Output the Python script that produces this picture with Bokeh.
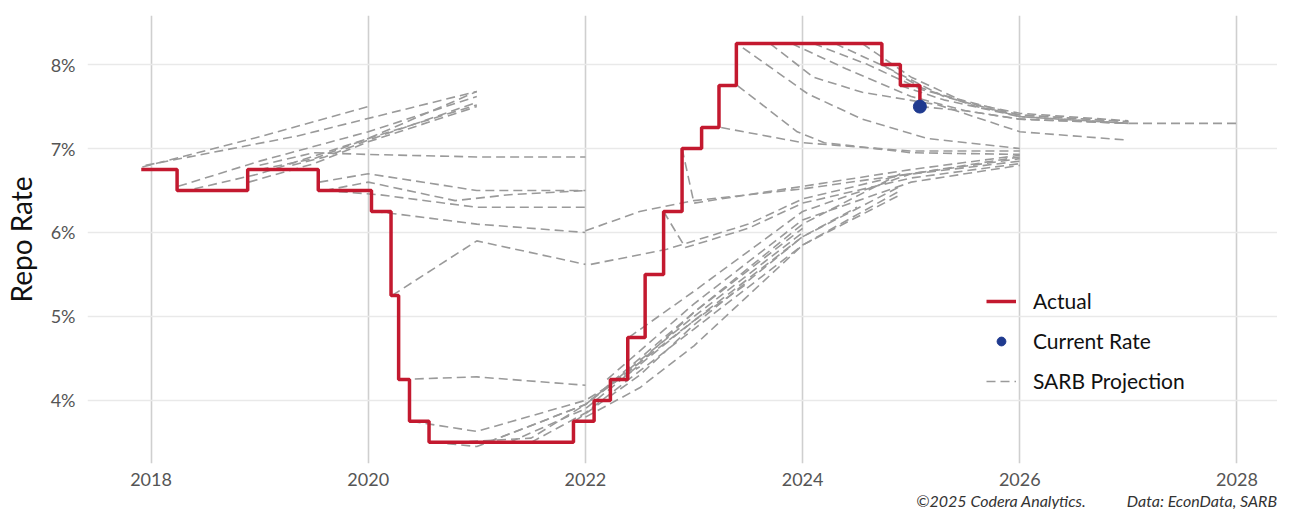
from bokeh.plotting import figure
from bokeh.models import (FixedTicker, PrintfTickFormatter, Legend, LegendItem,
                          Range1d, Title)
from bokeh.embed import file_html
from bokeh.resources import INLINE

# ---- data (decimal years, repo rate %) ----
actual_dates = [2017.91, 2018.24, 2018.89, 2019.54, 2020.03, 2020.21, 2020.28, 2020.38,
                2020.56, 2021.89, 2022.08, 2022.23, 2022.39, 2022.55, 2022.72, 2022.89,
                2023.07, 2023.23, 2023.39, 2024.73, 2024.90, 2025.08]
actual_rates = [6.75, 6.50, 6.75, 6.50, 6.25, 5.25, 4.25, 3.75,
                3.50, 3.75, 4.00, 4.25, 4.75, 5.50, 6.25, 7.00,
                7.25, 7.75, 8.25, 8.00, 7.75, 7.50]

current_date = [2025.08]
current_rate = [7.50]

proj_dates = [
    [2017.92, 2019.0, 2020.0],
    [2017.95, 2019.35, 2021.0],
    [2018.25, 2019.0, 2020.0, 2021.0],
    [2018.4, 2019.0, 2020.0, 2021.0],
    [2018.9, 2019.5, 2020.0, 2021.0],
    [2019.0, 2019.5, 2020.0, 2021.0],
    [2019.3, 2019.6, 2020.0, 2021.0],
    [2019.0, 2019.5, 2020.0, 2021.0, 2022.0],
    [2019.55, 2020.0, 2021.0, 2022.0],
    [2019.6, 2020.0, 2020.8, 2021.3, 2022.0],
    [2019.6, 2020.1, 2021.0, 2022.0],
    [2020.05, 2020.2, 2021.0, 2022.0],
    [2020.22, 2021.0, 2022.0],
    [2020.3, 2021.0, 2022.0],
    [2020.4, 2021.0, 2022.0, 2022.5],
    [2020.6, 2021.0, 2022.0, 2023.0, 2023.5],
    [2020.8, 2021.5, 2022.0, 2023.0, 2024.0],
    [2021.1, 2022.0, 2023.0, 2024.0],
    [2021.3, 2022.0, 2023.0, 2024.0, 2024.5],
    [2021.5, 2022.0, 2023.0, 2024.0, 2024.9],
    [2021.9, 2022.5, 2023.0, 2024.0, 2024.9],
    [2022.05, 2022.5, 2023.0, 2024.0, 2024.9],
    [2022.2, 2023.0, 2024.0, 2025.0, 2026.0],
    [2022.4, 2023.0, 2024.0, 2025.0, 2026.0],
    [2022.0, 2022.5, 2023.0, 2024.0, 2024.9],
    [2022.0, 2022.5, 2023.0, 2024.0, 2025.0, 2026.0],
    [2022.05, 2022.75, 2023.5, 2024.0, 2024.9, 2026.0],
    [2022.72, 2022.92, 2023.5, 2024.0, 2025.0, 2026.0],
    [2022.89, 2023.0, 2024.0, 2025.0, 2026.0],
    [2023.25, 2024.0, 2025.0, 2026.0],
    [2023.4, 2023.95, 2024.2, 2025.0, 2026.0],
    [2023.45, 2024.05, 2024.55, 2025.15, 2026.0],
    [2023.7, 2024.1, 2024.55, 2025.25, 2026.0, 2027.0],
    [2023.9, 2024.4, 2025.0, 2025.5, 2026.0, 2027.0],
    [2024.1, 2024.6, 2025.1, 2026.0, 2027.0],
    [2024.3, 2024.8, 2025.3, 2026.0, 2027.0],
    [2024.55, 2025.0, 2025.5, 2026.0, 2027.0],
    [2024.73, 2025.1, 2025.6, 2026.0, 2027.0],
    [2024.9, 2025.3, 2026.0, 2027.0],
    [2025.08, 2025.5, 2026.0, 2027.0, 2028.0],
]
proj_rates = [
    [6.78, 7.14, 7.5],
    [6.8, 7.15, 7.68],
    [6.55, 6.85, 7.2, 7.62],
    [6.52, 6.7, 7.12, 7.68],
    [6.6, 6.82, 7.08, 7.5],
    [6.75, 6.88, 7.12, 7.52],
    [6.8, 6.9, 7.1, 7.55],
    [6.8, 6.95, 6.93, 6.9, 6.9],
    [6.6, 6.7, 6.5, 6.5],
    [6.5, 6.6, 6.38, 6.45, 6.5],
    [6.5, 6.45, 6.3, 6.3],
    [6.25, 6.23, 6.1, 6.0],
    [5.25, 5.9, 5.62],
    [4.25, 4.28, 4.18],
    [3.75, 3.63, 4.0, 4.4],
    [3.5, 3.45, 3.95, 4.95, 5.4],
    [3.5, 3.55, 3.95, 5.0, 6.0],
    [3.5, 3.95, 5.05, 6.05],
    [3.5, 3.9, 4.95, 5.95, 6.3],
    [3.5, 3.85, 4.85, 5.85, 6.45],
    [3.75, 4.3, 4.9, 5.95, 6.55],
    [4.0, 4.45, 5.05, 6.1, 6.7],
    [4.25, 5.15, 6.15, 6.6, 6.8],
    [4.75, 5.3, 6.25, 6.7, 6.88],
    [3.8, 4.15, 4.65, 5.85, 6.5],
    [6.02, 6.25, 6.38, 6.52, 6.7, 6.9],
    [5.62, 5.8, 6.1, 6.4, 6.68, 6.85],
    [6.25, 5.82, 6.05, 6.35, 6.65, 6.82],
    [7.0, 6.35, 6.55, 6.75, 6.92],
    [7.25, 7.07, 6.97, 6.97],
    [7.75, 7.2, 7.07, 6.95, 6.93],
    [8.2, 7.65, 7.35, 7.12, 7.0],
    [8.25, 7.85, 7.67, 7.52, 7.2, 7.1],
    [8.25, 7.95, 7.62, 7.45, 7.35, 7.3],
    [8.25, 8.0, 7.7, 7.4, 7.32],
    [8.25, 7.95, 7.62, 7.38, 7.3],
    [8.25, 7.85, 7.55, 7.42, 7.33],
    [8.0, 7.72, 7.5, 7.4, 7.32],
    [7.75, 7.58, 7.38, 7.3],
    [7.5, 7.45, 7.35, 7.3, 7.3],
]

x_ticks = [2018, 2020, 2022, 2024, 2026, 2028]
y_ticks = [4, 5, 6, 7, 8]

RED = "#C3192F"
BLUE = "#1F3A8F"
GREY = "#9A9A9A"
FONT = "Lato"

p = figure(width=1277, height=509,
           x_range=Range1d(2017.415, 2028.373), y_range=Range1d(3.248, 8.585),
           output_backend="svg", toolbar_location=None,
           min_border_left=78, min_border_right=0, min_border_top=15, min_border_bottom=30)
p.outline_line_color = None
p.background_fill_color = "white"
p.border_fill_color = "white"

# grid
p.xgrid.ticker = FixedTicker(ticks=x_ticks)
p.ygrid.ticker = FixedTicker(ticks=y_ticks)
p.xgrid.grid_line_color = "#cfcfcf"
p.xgrid.grid_line_width = 1.6
p.ygrid.grid_line_color = "#e9e9e9"
p.ygrid.grid_line_width = 1.6

# axes
p.xaxis.ticker = FixedTicker(ticks=x_ticks)
p.yaxis.ticker = FixedTicker(ticks=y_ticks)
p.xaxis.formatter = PrintfTickFormatter(format="%d")
p.yaxis.formatter = PrintfTickFormatter(format="%d%%")
for ax in (p.xaxis[0], p.yaxis[0]):
    ax.axis_line_color = None
    ax.major_tick_line_color = None
    ax.minor_tick_line_color = None
    ax.major_tick_out = 0
    ax.major_tick_in = 0
    ax.major_label_text_font = FONT
    ax.major_label_text_font_size = "18px"
    ax.major_label_text_color = "#555555"
p.xaxis.major_label_standoff = 9
p.yaxis.major_label_standoff = 12
p.yaxis.axis_label = "Repo Rate"
p.yaxis.axis_label_text_font = FONT
p.yaxis.axis_label_text_font_size = "28px"
p.yaxis.axis_label_text_font_style = "normal"
p.yaxis.axis_label_text_color = "#111111"
p.yaxis.axis_label_standoff = 10

# glyphs
proj_r = p.multi_line(xs=proj_dates, ys=proj_rates, line_color=GREY, line_width=1.6,
                      line_dash="9 5")
act_r = p.step(actual_dates, actual_rates, mode="after", line_color=RED, line_width=3.5)
cur_r = p.scatter(current_date, current_rate, size=13, fill_color=BLUE, line_color=BLUE)

legend = Legend(items=[LegendItem(label="Actual", renderers=[act_r]),
                       LegendItem(label="Current Rate", renderers=[cur_r]),
                       LegendItem(label="SARB Projection", renderers=[proj_r])],
                location=(899, 70))
legend.label_text_font = FONT
legend.label_text_font_size = "21px"
legend.label_text_color = "#111111"
legend.glyph_width = 30
legend.glyph_height = 22
legend.label_height = 22
legend.label_standoff = 17
legend.spacing = 15
legend.padding = 0
legend.margin = 0
legend.border_line_color = None
legend.background_fill_alpha = 0
p.add_layout(legend)

caption = Title(text="\u00a92025 Codera Analytics." + "\u00a0" * 11 + "Data: EconData, SARB",
                align="right", text_font=FONT, text_font_style="italic",
                text_font_size="16px", text_color="#333333", offset=0, standoff=0)
p.add_layout(caption, "below")

open("out.html", "w").write(file_html(p, INLINE))
